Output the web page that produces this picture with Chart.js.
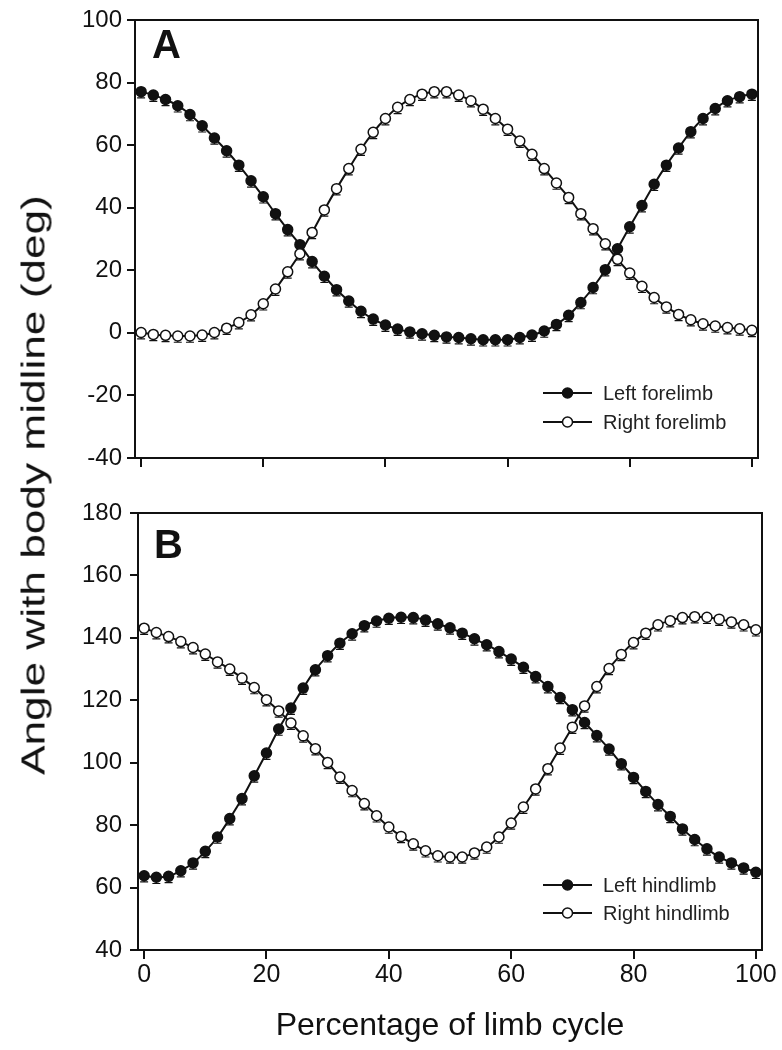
<!DOCTYPE html>
<html>
<head>
<meta charset="utf-8">
<script src="https://cdn.jsdelivr.net/npm/chart.js@4.4.1/dist/chart.umd.min.js"></script>
<style>
  html, body { margin: 0; padding: 0; background: #fff; width: 782px; height: 1050px; overflow: hidden; }
  .panel { position: absolute; left: 0; width: 782px; }
  #wrapA { top: 0; height: 478px; }
  #wrapB { top: 490px; height: 560px; }
  #ytitle {
    position: absolute; left: 33px; top: 485px;
    transform: translate(-50%, -50%) rotate(-90deg) scale(1.3, 1);
    font: 34px "Liberation Sans", Arial, Helvetica, sans-serif;
    color: #111; white-space: nowrap;
  }
</style>
</head>
<body>
<div id="wrapA" class="panel"><canvas id="chartA" width="782" height="478"></canvas></div>
<div id="wrapB" class="panel"><canvas id="chartB" width="782" height="560"></canvas></div>
<div id="ytitle">Angle with body midline (deg)</div>
<script>
// Percentage of the limb cycle at which each angle was sampled
const cyclePct = [0, 2, 4, 6, 8, 10, 12, 14, 16, 18, 20, 22, 24, 26, 28, 30, 32, 34, 36, 38, 40,
  42, 44, 46, 48, 50, 52, 54, 56, 58, 60, 62, 64, 66, 68, 70, 72, 74, 76, 78, 80,
  82, 84, 86, 88, 90, 92, 94, 96, 98, 100];

// Panel A: forelimb angle with body midline (deg)
const leftForelimb = [77.1, 76.0, 74.6, 72.6, 69.8, 66.2, 62.3, 58.2, 53.6, 48.6, 43.5,
  38.1, 33.0, 28.2, 22.8, 18.1, 13.8, 10.2, 6.9, 4.4, 2.5,
  1.2, 0.3, -0.3, -0.8, -1.3, -1.5, -1.9, -2.2, -2.2, -2.2,
  -1.5, -0.7, 0.6, 2.7, 5.6, 9.7, 14.5, 20.2, 26.9, 33.9,
  40.7, 47.5, 53.6, 59.1, 64.3, 68.5, 71.7, 74.2, 75.5, 76.3];
const rightForelimb = [0.1, -0.5, -0.8, -1.0, -1.0, -0.7, 0.1, 1.5, 3.3, 5.8, 9.3,
  14.0, 19.5, 25.3, 32.1, 39.3, 46.1, 52.5, 58.7, 64.1, 68.5,
  72.1, 74.6, 76.3, 77.1, 77.1, 76.0, 74.2, 71.5, 68.5, 65.1,
  61.3, 57.1, 52.5, 47.9, 43.3, 38.1, 33.3, 28.5, 23.5, 19.1,
  14.9, 11.3, 8.3, 5.9, 4.2, 2.9, 2.2, 1.7, 1.3, 0.8];

// Panel B: hindlimb angle with body midline (deg)
const leftHindlimb = [63.8, 63.3, 63.6, 65.4, 67.9, 71.6, 76.2, 82.1, 88.5, 95.8, 103.1,
  110.8, 117.5, 123.9, 129.8, 134.3, 138.3, 141.3, 143.9, 145.4, 146.3,
  146.6, 146.5, 145.7, 144.5, 143.2, 141.5, 139.7, 137.8, 135.6, 133.2,
  130.6, 127.6, 124.4, 120.9, 117.0, 112.9, 108.7, 104.4, 99.7, 95.3,
  90.8, 86.6, 82.8, 78.8, 75.4, 72.4, 69.8, 67.9, 66.3, 64.9];
const rightHindlimb = [143.1, 141.7, 140.4, 138.8, 136.9, 134.8, 132.3, 130.0, 127.1, 124.1, 120.2,
  116.6, 112.7, 108.6, 104.5, 100.1, 95.4, 91.1, 86.9, 83.0, 79.4,
  76.4, 74.0, 71.8, 70.2, 69.8, 69.8, 71.1, 73.0, 76.2, 80.7,
  85.8, 91.6, 98.1, 104.7, 111.4, 118.2, 124.4, 130.2, 134.7, 138.5,
  141.5, 144.2, 145.5, 146.5, 146.8, 146.6, 146.0, 145.1, 144.2, 142.6];

// Standard error of the mean angle (deg)
const forelimbSE = 2.0;
const hindlimbSE = 2.0;

// Axis ticks
const xTickValues = [0, 20, 40, 60, 80, 100];
const yTickValuesA = [-40, -20, 0, 20, 40, 60, 80, 100];
const yTickValuesB = [40, 60, 80, 100, 120, 140, 160, 180];

const FONT = '"Liberation Sans", Arial, Helvetica, sans-serif';
const INK = '#111';

function toPoints(values) {
  return cyclePct.map((x, i) => ({ x: x, y: values[i] }));
}

function series(label, values, filled, se, order) {
  return {
    label: label,
    data: toPoints(values),
    se: se,
    order: order,
    borderColor: INK,
    borderWidth: 2,
    backgroundColor: filled ? INK : '#fff',
    pointBackgroundColor: filled ? INK : '#fff',
    pointBorderColor: INK,
    pointBorderWidth: 1.5,
    pointRadius: 5,
    pointHoverRadius: 5,
    tension: 0.25,
    fill: false
  };
}

// Plot frame: top and right edges (bottom/left come from the axes)
const framePlugin = {
  id: 'frame',
  afterDraw(chart) {
    const { ctx, chartArea: a } = chart;
    ctx.save();
    ctx.strokeStyle = INK;
    ctx.lineWidth = 2;
    ctx.beginPath();
    ctx.moveTo(a.left - 1, a.top);
    ctx.lineTo(a.right, a.top);
    ctx.lineTo(a.right, a.bottom + 1);
    ctx.stroke();
    ctx.restore();
  }
};

// One-sided (lower) error bars under each point
const errorBarPlugin = {
  id: 'errorBars',
  beforeDatasetsDraw(chart) {
    const { ctx, scales } = chart;
    ctx.save();
    ctx.strokeStyle = INK;
    ctx.lineWidth = 1.2;
    chart.data.datasets.forEach(ds => {
      ds.data.forEach(p => {
        const px = scales.x.getPixelForValue(p.x);
        const py = scales.y.getPixelForValue(p.y);
        const pe = scales.y.getPixelForValue(p.y - ds.se);
        ctx.beginPath();
        ctx.moveTo(px, py);
        ctx.lineTo(px, pe);
        ctx.moveTo(px - 4, pe);
        ctx.lineTo(px + 4, pe);
        ctx.stroke();
      });
    });
    ctx.restore();
  }
};

// Panel letter and in-plot legend
const decorPlugin = {
  id: 'decor',
  afterDraw(chart, args, opts) {
    const { ctx, chartArea: a } = chart;
    ctx.save();
    ctx.fillStyle = INK;
    ctx.font = 'bold 40px ' + FONT;
    ctx.textBaseline = 'alphabetic';
    ctx.textAlign = 'left';
    ctx.fillText(opts.letter, a.left + opts.letterDx, a.top + opts.letterDy);

    ctx.font = '20px ' + FONT;
    ctx.textBaseline = 'middle';
    chart.data.datasets.forEach((ds, i) => {
      const y = a.top + opts.legendDy + i * opts.legendGap;
      const x0 = a.left + opts.legendDx;
      ctx.strokeStyle = INK;
      ctx.lineWidth = 2;
      ctx.beginPath();
      ctx.moveTo(x0, y);
      ctx.lineTo(x0 + 49, y);
      ctx.stroke();
      ctx.beginPath();
      ctx.arc(x0 + 24.5, y, 5, 0, Math.PI * 2);
      ctx.fillStyle = ds.pointBackgroundColor;
      ctx.fill();
      ctx.lineWidth = 1.5;
      ctx.stroke();
      ctx.fillStyle = '#222';
      ctx.fillText(ds.label, x0 + 60, y + 1);
    });
    ctx.restore();
  }
};

function axisStyle() {
  return {
    grid: { display: true, drawOnChartArea: false, drawTicks: true, tickLength: 8, color: INK, lineWidth: 2 },
    border: { display: true, color: INK, width: 2 }
  };
}

function buildChart(canvasId, opts) {
  const xBase = axisStyle();
  const yBase = axisStyle();
  return new Chart(document.getElementById(canvasId), {
    type: 'line',
    data: { datasets: opts.datasets },
    plugins: [errorBarPlugin, framePlugin, decorPlugin],
    options: {
      responsive: false,
      animation: false,
      devicePixelRatio: 1,
      layout: { padding: opts.padding },
      plugins: {
        legend: { display: false },
        tooltip: { enabled: false },
        decor: opts.decor
      },
      scales: {
        x: Object.assign(xBase, {
          type: 'linear',
          min: -1,
          max: 101,
          afterBuildTicks: s => { s.ticks = xTickValues.map(v => ({ value: v })); },
          afterFit: s => { s.height = opts.xHeight; s.paddingLeft = 0; s.paddingRight = 0; },
          grid: Object.assign(xBase.grid, { tickLength: 9 }),
          ticks: opts.xTicks,
          title: opts.xTitle || { display: false }
        }),
        y: Object.assign(yBase, {
          min: opts.yMin,
          max: opts.yMax,
          afterBuildTicks: s => { s.ticks = opts.yTicks.map(v => ({ value: v })); },
          afterFit: s => { s.width = opts.yWidth; },
          ticks: { font: { family: FONT, size: 24 }, color: INK, padding: opts.yPad }
        })
      }
    }
  });
}

buildChart('chartA', {
  datasets: [
    series('Left forelimb', leftForelimb, true, forelimbSE, 1),
    series('Right forelimb', rightForelimb, false, forelimbSE, 0)
  ],
  padding: { top: 20, right: 24, left: 0, bottom: 0 },
  xHeight: 20,
  yWidth: 135,
  yPad: 5,
  yMin: -40, yMax: 100,
  yTicks: yTickValuesA,
  xTicks: { display: false },
  decor: { letter: 'A', letterDx: 17, letterDy: 38, legendDx: 408, legendDy: 373, legendGap: 29 }
});

buildChart('chartB', {
  datasets: [
    series('Left hindlimb', leftHindlimb, true, hindlimbSE, 1),
    series('Right hindlimb', rightHindlimb, false, hindlimbSE, 0)
  ],
  padding: { top: 23, right: 20, left: 0, bottom: 0 },
  xHeight: 100,
  yWidth: 138,
  yPad: 8,
  yMin: 40, yMax: 180,
  yTicks: yTickValuesB,
  xTicks: { font: { family: FONT, size: 25 }, color: INK, padding: 1, maxRotation: 0 },
  xTitle: { display: true, text: 'Percentage of limb cycle', color: INK,
            font: { family: FONT, size: 32 }, padding: { top: 0, bottom: 5 } },
  decor: { letter: 'B', letterDx: 16, letterDy: 45, legendDx: 405, legendDy: 372, legendGap: 28 }
});
</script>
</body>
</html>
